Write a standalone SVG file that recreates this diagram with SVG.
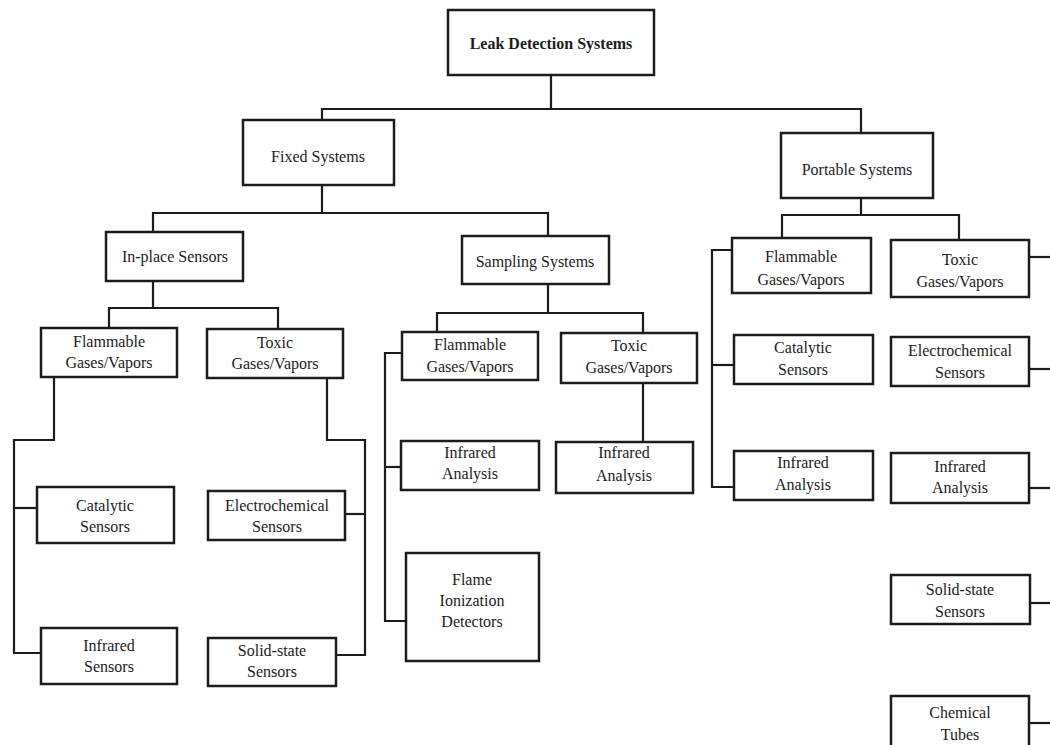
<svg xmlns="http://www.w3.org/2000/svg" width="1050" height="745" viewBox="0 0 1050 745">
<style>
.box{fill:#fff;stroke:#1c1c1c;stroke-width:2.5}
.ln{fill:none;stroke:#1c1c1c;stroke-width:2.2}
text{font-family:"Liberation Serif","Times New Roman",serif;font-size:16px;fill:#1c1c1c;text-anchor:middle}
.b{font-weight:bold}
</style>
<rect width="1050" height="745" fill="#fff"/>
<g id="connectors">
<polyline class="ln" points="551,75 551,109"/>
<polyline class="ln" points="322,120 322,109 861,109 861,133"/>
<polyline class="ln" points="322,185 322,213"/>
<polyline class="ln" points="153,232 153,213 548,213 548,236"/>
<polyline class="ln" points="861,198 861,215"/>
<polyline class="ln" points="782,238 782,215 959,215 959,240"/>
<polyline class="ln" points="153,281 153,308"/>
<polyline class="ln" points="109,328 109,308 278,308 278,329"/>
<polyline class="ln" points="548,284 548,313"/>
<polyline class="ln" points="437,332 437,313 643,313 643,333"/>
<polyline class="ln" points="54,377 54,440 14,440 14,653 41,653"/>
<polyline class="ln" points="14,508 37,508"/>
<polyline class="ln" points="327,378 327,440 365,440 365,655 336,655"/>
<polyline class="ln" points="345,514 365,514"/>
<polyline class="ln" points="402,353 385,353 385,621 406,621"/>
<polyline class="ln" points="385,467 401,467"/>
<polyline class="ln" points="643,383 643,442"/>
<polyline class="ln" points="732,250 712,250 712,487 734,487"/>
<polyline class="ln" points="712,365 734,365"/>
<polyline class="ln" points="1029,257 1050,257"/>
<polyline class="ln" points="1029,369 1050,369"/>
<polyline class="ln" points="1029,488 1050,488"/>
<polyline class="ln" points="1030,603 1050,603"/>
<polyline class="ln" points="1029,723 1050,723"/>
</g>
<g id="leak"><rect class="box" x="448" y="10" width="206" height="65"/><text class="b" x="551" y="49">Leak Detection Systems</text></g>
<g id="fixed"><rect class="box" x="243" y="120" width="151" height="65"/><text x="318" y="162">Fixed Systems</text></g>
<g id="portable"><rect class="box" x="781" y="133" width="152" height="65"/><text x="857" y="175">Portable Systems</text></g>
<g id="inplace"><rect class="box" x="106" y="232" width="137" height="49"/><text x="175" y="262">In-place Sensors</text></g>
<g id="sampling"><rect class="box" x="462" y="236" width="147" height="48"/><text x="535" y="267">Sampling Systems</text></g>
<g id="flam-ip"><rect class="box" x="41" y="328" width="136" height="49"/><text x="109" y="347">Flammable</text><text x="109" y="368">Gases/Vapors</text></g>
<g id="tox-ip"><rect class="box" x="207" y="329" width="136" height="49"/><text x="275" y="348">Toxic</text><text x="275" y="369">Gases/Vapors</text></g>
<g id="flam-s"><rect class="box" x="402" y="332" width="136" height="48"/><text x="470" y="350">Flammable</text><text x="470" y="372">Gases/Vapors</text></g>
<g id="tox-s"><rect class="box" x="561" y="333" width="136" height="50"/><text x="629" y="351">Toxic</text><text x="629" y="373">Gases/Vapors</text></g>
<g id="flam-p"><rect class="box" x="732" y="238" width="139" height="55"/><text x="801" y="262">Flammable</text><text x="801" y="285">Gases/Vapors</text></g>
<g id="tox-p"><rect class="box" x="891" y="240" width="138" height="57"/><text x="960" y="265">Toxic</text><text x="960" y="287">Gases/Vapors</text></g>
<g id="cat-ip"><rect class="box" x="37" y="487" width="137" height="56"/><text x="105" y="511">Catalytic</text><text x="105" y="532">Sensors</text></g>
<g id="ir-ip"><rect class="box" x="41" y="628" width="136" height="56"/><text x="109" y="651">Infrared</text><text x="109" y="672">Sensors</text></g>
<g id="ec-ip"><rect class="box" x="208" y="491" width="137" height="49"/><text x="277" y="511">Electrochemical</text><text x="277" y="532">Sensors</text></g>
<g id="ss-ip"><rect class="box" x="208" y="638" width="128" height="48"/><text x="272" y="656">Solid-state</text><text x="272" y="677">Sensors</text></g>
<g id="ir-sf"><rect class="box" x="401" y="441" width="138" height="49"/><text x="470" y="458">Infrared</text><text x="470" y="479">Analysis</text></g>
<g id="flame"><rect class="box" x="406" y="553" width="133" height="108"/><text x="472" y="585">Flame</text><text x="472" y="606">Ionization</text><text x="472" y="627">Detectors</text></g>
<g id="ir-st"><rect class="box" x="556" y="442" width="137" height="51"/><text x="624" y="458">Infrared</text><text x="624" y="481">Analysis</text></g>
<g id="cat-p"><rect class="box" x="734" y="335" width="139" height="49"/><text x="803" y="353">Catalytic</text><text x="803" y="375">Sensors</text></g>
<g id="ec-p"><rect class="box" x="891" y="337" width="138" height="49"/><text x="960" y="356">Electrochemical</text><text x="960" y="378">Sensors</text></g>
<g id="ir-pf"><rect class="box" x="734" y="451" width="139" height="49"/><text x="803" y="468">Infrared</text><text x="803" y="490">Analysis</text></g>
<g id="ir-pt"><rect class="box" x="891" y="453" width="138" height="50"/><text x="960" y="472">Infrared</text><text x="960" y="493">Analysis</text></g>
<g id="ss-p"><rect class="box" x="891" y="575" width="139" height="49"/><text x="960" y="595">Solid-state</text><text x="960" y="617">Sensors</text></g>
<g id="chem-p"><rect class="box" x="891" y="696" width="138" height="60"/><text x="960" y="718">Chemical</text><text x="960" y="740">Tubes</text></g>
</svg>
